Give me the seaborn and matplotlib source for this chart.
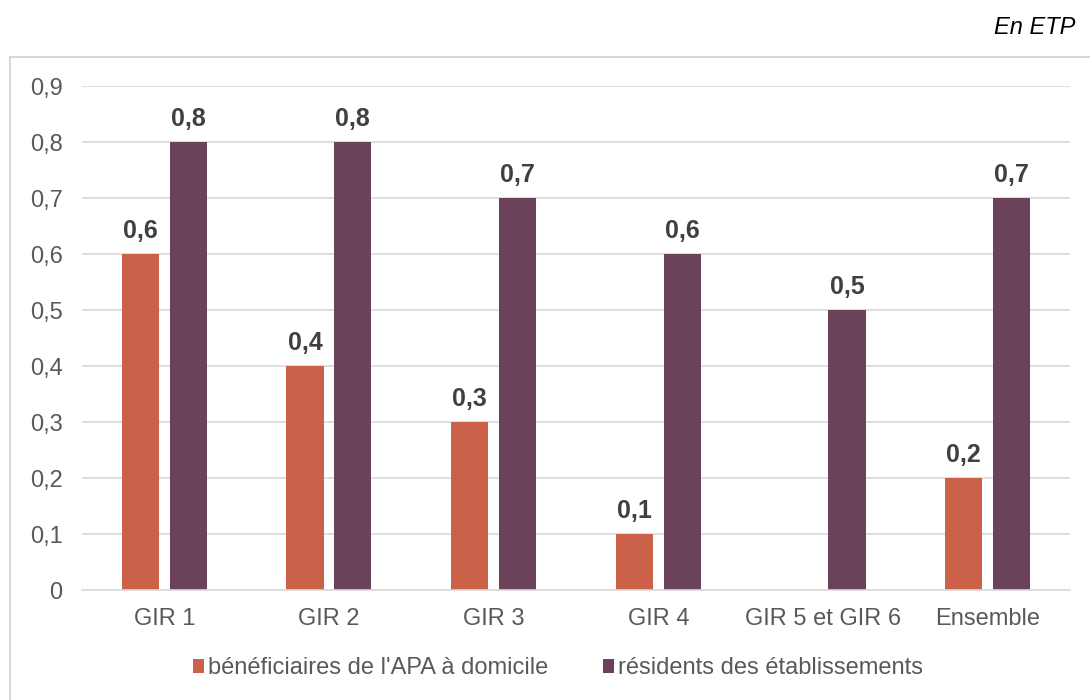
import numpy as np
import pandas as pd
import seaborn as sns
import matplotlib.pyplot as plt
from matplotlib.patches import Rectangle

# data
categories = ['GIR 1', 'GIR 2', 'GIR 3', 'GIR 4', 'GIR 5 et GIR 6', 'Ensemble']
domicile = [0.6, 0.4, 0.3, 0.1, np.nan, 0.2]
etablissements = [0.8, 0.8, 0.7, 0.6, 0.5, 0.7]
series_names = ["bénéficiaires de l'APA à domicile", 'résidents des établissements']
colors = ['#CC6149', '#6C425A']

df = pd.DataFrame({
    'categorie': categories * 2,
    'serie': [series_names[0]] * len(categories) + [series_names[1]] * len(categories),
    'valeur': domicile + etablissements,
})

sns.set_theme(style='white')
plt.rcParams['font.family'] = ['Liberation Sans', 'DejaVu Sans']

fig = plt.figure(figsize=(10.9, 7), dpi=100)
ax = fig.add_axes([0.0752, 0.157, 0.9065, 0.72])

sns.barplot(data=df, x='categorie', y='valeur', hue='serie', order=categories,
            hue_order=series_names, palette=colors, width=0.58, gap=0.22,
            saturation=1, linewidth=0, ax=ax, legend=True)

# data labels
for cont in ax.containers:
    labels = ['' if np.isnan(v) else f'{v:.1f}'.replace('.', ',') for v in cont.datavalues]
    ax.bar_label(cont, labels=labels, padding=8, fontsize=18, fontweight='bold', color='#404040')

ax.set_ylim(0, 0.9)
ax.set_yticks(np.arange(0, 0.91, 0.1))
ax.set_yticklabels(['0'] + [f'0,{i}' for i in range(1, 10)])
ax.set_xlim(-0.5, len(categories) - 0.5)
ax.yaxis.grid(True, color='#D9D9D9', linewidth=1.2)
ax.set_axisbelow(True)
for s in ['left', 'right', 'top']:
    ax.spines[s].set_visible(False)
ax.spines['bottom'].set_color('#D9D9D9')
ax.spines['bottom'].set_linewidth(1.2)
ax.tick_params(axis='both', labelsize=17, labelcolor='#595959', length=0)
ax.tick_params(axis='x', pad=13)
ax.tick_params(axis='y', pad=14)
ax.set_xlabel('')
ax.set_ylabel('')

leg = ax.legend(loc='center', bbox_to_anchor=(0.482, -0.155), ncol=2, frameon=False,
                fontsize=17, handlelength=0.45, handleheight=0.55, handletextpad=0.2,
                columnspacing=2.3)
for t in leg.get_texts():
    t.set_color('#595959')

# outer frame
fig.patches.append(Rectangle((10 / 1090, -0.1), 1.2, (700 - 57) / 700 + 0.1,
                             transform=fig.transFigure, fill=False,
                             edgecolor='#D9D9D9', linewidth=1.5))

fig.text(1075 / 1090, 1 - 28 / 700, 'En ETP', ha='right', va='center',
         fontsize=17, style='italic', color='black')

fig.savefig('out.png', dpi=100)
